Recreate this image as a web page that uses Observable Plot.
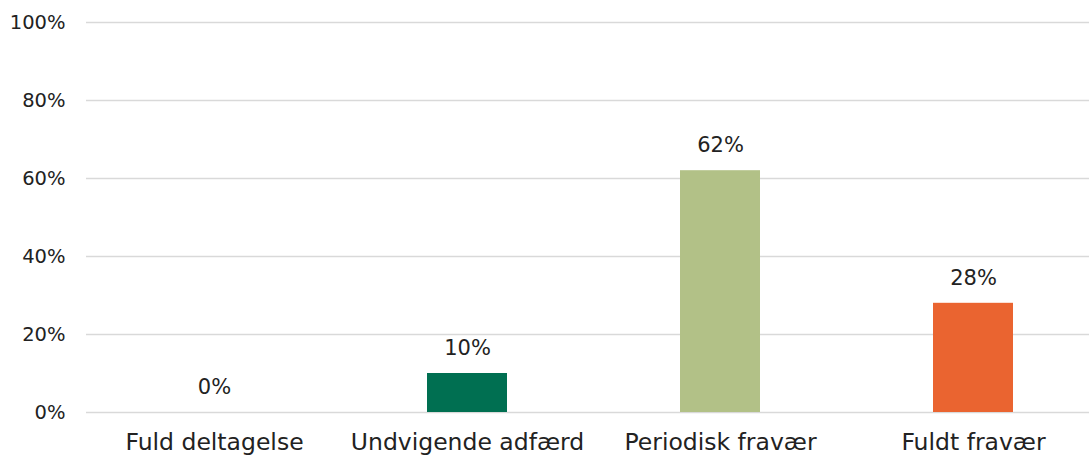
<!DOCTYPE html>
<html>
<head>
<meta charset="utf-8">
<script src="https://cdn.jsdelivr.net/npm/d3@7"></script>
<script src="https://cdn.jsdelivr.net/npm/@observablehq/plot@0.6"></script>
<style>
  html, body { margin: 0; padding: 0; background: #fff; overflow: hidden; }
  #chart svg { overflow: hidden; display: block; }
</style>
</head>
<body>
<div id="chart"></div>
<script>
const categories = ["Fuld deltagelse", "Undvigende adfærd", "Periodisk fravær", "Fuldt fravær"];
const values = [0, 10, 62, 28];
const colors = ["#006f51", "#006f51", "#b2c187", "#ea6430"];
const yTicks = [0, 20, 40, 60, 80, 100];

const data = categories.map((c, i) => ({category: c, value: values[i]}));

const font = "'DejaVu Sans', sans-serif";

const chart = Plot.plot({
  width: 1089,
  height: 456,
  marginLeft: 86,
  marginRight: -11,
  marginTop: 22,
  marginBottom: 44,
  style: {fontFamily: font, background: "#fff", color: "#222"},
  x: {domain: categories, paddingInner: 0.684, paddingOuter: 0.342, label: null, axis: null},
  y: {domain: [0, 100], label: null, axis: null},
  color: {domain: categories, range: colors},
  marks: [
    Plot.ruleY(yTicks, {stroke: "#d9d9d9", strokeWidth: 1.6}),
    Plot.text(yTicks, {
      y: d => d, text: d => d + "%",
      frameAnchor: "left", dx: -21, textAnchor: "end",
      fontSize: 19.5, fill: "#222"
    }),
    Plot.barY(data, {x: "category", y: "value", fill: "category"}),
    Plot.text(data, {
      x: "category", y: "value", text: d => d.value + "%",
      dy: -25, fontSize: 21, fill: "#222"
    }),
    Plot.text(data, {
      x: "category", y: 0, text: "category",
      dy: 30, fontSize: 23.5, fill: "#222"
    })
  ]
});
document.getElementById("chart").appendChild(chart);
</script>
</body>
</html>
